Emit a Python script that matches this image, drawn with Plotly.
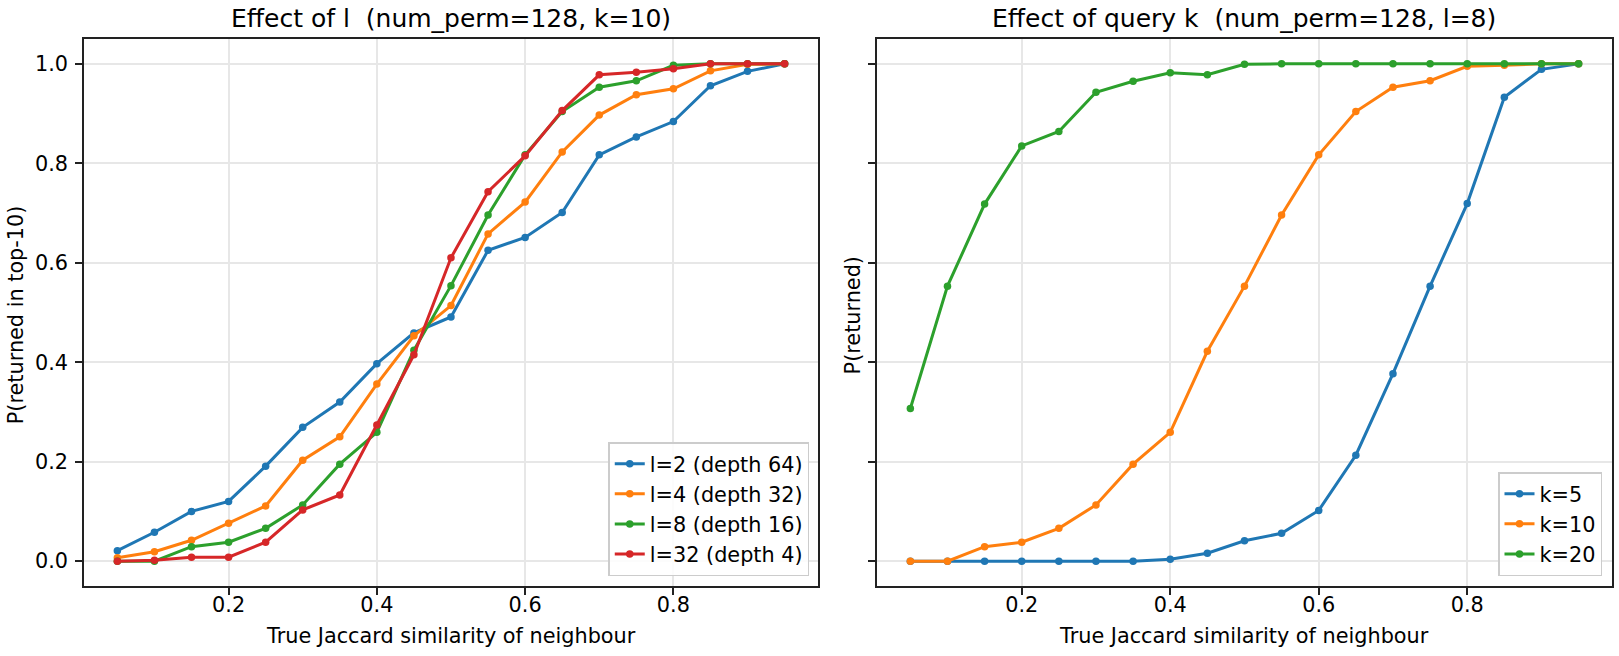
import plotly.graph_objects as go

# ---------------- data ----------------
x_sim = [0.05, 0.10, 0.15, 0.20, 0.25, 0.30, 0.35, 0.40, 0.45, 0.50,
         0.55, 0.60, 0.65, 0.70, 0.75, 0.80, 0.85, 0.90, 0.95]

# Left panel: effect of l (num_perm=128, k=10)
l2_depth64 = [0.021, 0.058, 0.100, 0.120, 0.191, 0.269, 0.320, 0.397, 0.459, 0.491,
              0.625, 0.651, 0.701, 0.817, 0.853, 0.884, 0.956, 0.985, 1.000]
l4_depth32 = [0.007, 0.019, 0.042, 0.076, 0.111, 0.203, 0.250, 0.356, 0.453, 0.514,
              0.658, 0.722, 0.823, 0.897, 0.938, 0.950, 0.986, 0.999, 1.000]
l8_depth16 = [0.000, 0.000, 0.029, 0.038, 0.066, 0.113, 0.195, 0.259, 0.424, 0.554,
              0.696, 0.817, 0.904, 0.953, 0.966, 0.997, 1.000, 1.000, 1.000]
l32_depth4 = [0.000, 0.002, 0.008, 0.008, 0.038, 0.103, 0.133, 0.274, 0.415, 0.610,
              0.743, 0.815, 0.906, 0.978, 0.983, 0.990, 1.000, 1.000, 1.000]

# Right panel: effect of query k (num_perm=128, l=8)
k5 = [0.000, 0.000, 0.000, 0.000, 0.000, 0.000, 0.000, 0.004, 0.016, 0.041,
      0.056, 0.102, 0.213, 0.377, 0.553, 0.719, 0.933, 0.989, 1.000]
k10 = [0.000, 0.000, 0.029, 0.038, 0.066, 0.113, 0.195, 0.259, 0.422, 0.553,
       0.696, 0.817, 0.904, 0.953, 0.966, 0.995, 0.997, 1.000, 1.000]
k20 = [0.307, 0.553, 0.718, 0.835, 0.864, 0.943, 0.965, 0.982, 0.978, 0.999,
       1.000, 1.000, 1.000, 1.000, 1.000, 1.000, 1.000, 1.000, 1.000]

left_series = [("l=2 (depth 64)", l2_depth64), ("l=4 (depth 32)", l4_depth32),
               ("l=8 (depth 16)", l8_depth16), ("l=32 (depth 4)", l32_depth4)]
right_series = [("k=5", k5), ("k=10", k10), ("k=20", k20)]

x_ticks = [0.2, 0.4, 0.6, 0.8]
y_ticks = [0.0, 0.2, 0.4, 0.6, 0.8, 1.0]

colors = ["#1f77b4", "#ff7f0e", "#2ca02c", "#d62728"]

title_left = "Effect of l  (num_perm=128, k=10)"
title_right = "Effect of query k  (num_perm=128, l=8)"
xlabel = "True Jaccard similarity of neighbour"
ylabel_left = "P(returned in top-10)"
ylabel_right = "P(returned)"

# ---------------- layout geometry ----------------
W, H = 1619, 656
L, R, T, B = 83.5, 7, 39, 70.3
PW = W - L - R
PH = H - T - B


def px(x):
    return (x - L) / PW


def py(y):
    return (H - B - y) / PH


FONT = "DejaVu Sans"
TICK_SIZE = 20.8
LABEL_SIZE = 20.8
TITLE_SIZE = 25
LEGEND_SIZE = 20.8

fig = go.Figure()

for i, (name, vals) in enumerate(left_series):
    fig.add_trace(go.Scatter(
        x=x_sim, y=vals, name=name, mode="lines+markers",
        line=dict(color=colors[i], width=3),
        marker=dict(color=colors[i], size=7.5),
        xaxis="x", yaxis="y", legend="legend"))

for i, (name, vals) in enumerate(right_series):
    fig.add_trace(go.Scatter(
        x=x_sim, y=vals, name=name, mode="lines+markers",
        line=dict(color=colors[i], width=3),
        marker=dict(color=colors[i], size=7.5),
        xaxis="x2", yaxis="y2", legend="legend2"))

axis_common = dict(
    showline=True, linecolor="#222222", linewidth=1.7, mirror=True,
    ticks="outside", ticklen=7, tickwidth=1.7, tickcolor="#222222",
    showgrid=True, gridcolor="#e7e7e7", gridwidth=1.6, zeroline=False,
    tickfont=dict(family=FONT, size=TICK_SIZE, color="black"),
)

left_dom = [0, px(817.7)]
right_dom = [px(876.7), 1]

legend_common = dict(
    xanchor="right", yanchor="bottom",
    bgcolor="rgba(255,255,255,0.85)", bordercolor="#cccccc", borderwidth=1.5,
    font=dict(family=FONT, size=LEGEND_SIZE, color="black"),
)

fig.update_layout(
    width=W, height=H,
    margin=dict(l=L, r=R, t=T, b=B, autoexpand=False),
    paper_bgcolor="white", plot_bgcolor="white",
    font=dict(family=FONT, size=TICK_SIZE, color="black"),
    xaxis=dict(domain=left_dom, range=[0.005, 0.995], tickvals=x_ticks,
               tickformat=".1f", anchor="y", ticklabelstandoff=-8, **axis_common),
    yaxis=dict(domain=[0, 1], range=[-0.05, 1.05], tickvals=y_ticks,
               tickformat=".1f", anchor="x", ticklabelstandoff=3, **axis_common),
    xaxis2=dict(domain=right_dom, range=[0.005, 0.995], tickvals=x_ticks,
                tickformat=".1f", anchor="y2", ticklabelstandoff=-8, **axis_common),
    yaxis2=dict(domain=[0, 1], range=[-0.05, 1.05], tickvals=y_ticks,
                showticklabels=False, anchor="x2", matches="y", **axis_common),
    legend=dict(x=px(809), y=py(576), **legend_common),
    legend2=dict(x=px(1602), y=py(576), **legend_common),
    showlegend=True,
)

ann = [
    dict(text=title_left, x=px((83.5 + 817.7) / 2), y=py(18.6), size=TITLE_SIZE, angle=0),
    dict(text=title_right, x=px((876.7 + 1612) / 2), y=py(18.6), size=TITLE_SIZE, angle=0),
    dict(text=xlabel, x=px((83.5 + 817.7) / 2), y=py(636), size=LABEL_SIZE, angle=0),
    dict(text=xlabel, x=px((876.7 + 1612) / 2), y=py(636), size=LABEL_SIZE, angle=0),
    dict(text=ylabel_left, x=px(15.5), y=py(315), size=LABEL_SIZE, angle=-90),
    dict(text=ylabel_right, x=px(853), y=py(315), size=LABEL_SIZE, angle=-90),
]
for a in ann:
    fig.add_annotation(text=a["text"], x=a["x"], y=a["y"], xref="paper", yref="paper",
                       xanchor="center", yanchor="middle", showarrow=False,
                       textangle=a["angle"],
                       font=dict(family=FONT, size=a["size"], color="black"))

fig.write_html("out.html")
